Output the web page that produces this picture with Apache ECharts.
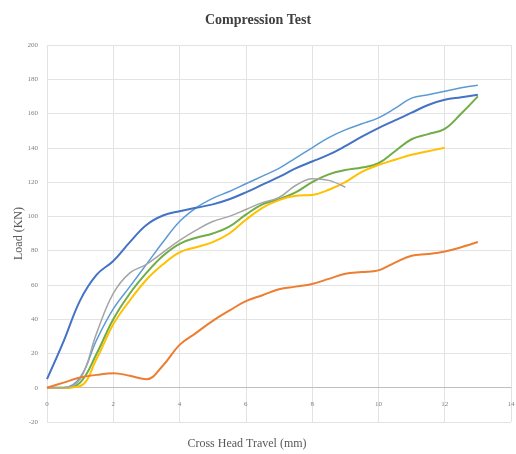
<!DOCTYPE html>
<html>
<head>
<meta charset="utf-8">
<script src="https://cdn.jsdelivr.net/npm/echarts@6/dist/echarts.min.js"></script>
<style>html,body{margin:0;padding:0;background:#fff;}#c{width:516px;height:454px;}</style>
</head>
<body>
<div id="c"></div>
<script>
// Cross head travel (mm)
var travel = [0,0.5,1,1.5,2,2.5,3,3.5,4,4.5,5,5.5,6,6.5,7,7.5,8,8.5,9,9.5,10,10.5,11,11.5,12,12.5,13];
// Load (KN) per specimen
var s1 = [5,27,51,66,74,85,95,100.5,103,105,107,110,114,118.5,123,128,132,136,141,146.5,151.5,156,160.5,165,168,169.5,171];
var s2 = [0,3,6,7.5,8.5,7,5,13,25,32,39,45,50.5,54,57.5,59,60.5,63.5,66.5,67.5,68.5,73,77,78,79.5,82,85];
var s3 = [0,0,5,32,55,67,72,79,86,92,97,100,104,108,111,118,122,121,117];
var s4 = [0,0,1,17,37,51,63,72,79,82,85,90,98,105,109.5,112,112.5,115.5,120,126,130,133,136,138,140];
var s5 = [0,0,6,28,46,59,72,85,97,105,110.5,114.5,119,123.5,128,134,140,146,150.5,154,157.5,163,169,171,173,175,176.5];
var s6 = [0,0,3,20,40,55,67,77,84,87.5,90,94,101,107,110,114,120,124.5,127,128.5,131,138,145,148,151,160,170];
var seriesData = [s1, s2, s3, s4, s5, s6];
var colors = ['#4472C4', '#ED7D31', '#A5A5A5', '#FFC000', '#5B9BD5', '#70AD47'];
var widths = [2, 2, 1.5, 2, 1.5, 2];

function pairs(arr) {
  var out = [];
  for (var i = 0; i < arr.length; i++) out.push([travel[i], arr[i]]);
  return out;
}

var chart = echarts.init(document.getElementById('c'));
var serif = 'Liberation Serif';
chart.setOption({
  animation: false,
  title: {
    text: 'Compression Test',
    left: 'center',
    top: 8,
    textStyle: { fontFamily: serif, fontSize: 14, fontWeight: 'bold', color: '#404040' }
  },
  grid: { left: 47, right: 5, top: 45, bottom: 32, containLabel: false, outerBoundsMode: 'none' },
  xAxis: {
    type: 'value', min: 0, max: 14, interval: 2,
    name: 'Cross Head Travel (mm)',
    nameLocation: 'middle', nameGap: 16, nameMoveOverlap: false,
    nameTextStyle: { fontFamily: serif, fontSize: 12, color: '#595959', padding: [0, 64, 0, 0] },
    axisLine: { show: true, onZero: true, lineStyle: { color: '#bfbfbf', width: 1 } },
    axisTick: { show: false },
    axisLabel: { fontFamily: serif, fontSize: 7, color: '#7f7f7f', margin: -21 },
    splitLine: { show: true, lineStyle: { color: '#e3e3e3', width: 1 } }
  },
  yAxis: {
    type: 'value', min: -20, max: 200, interval: 20,
    name: 'Load (KN)',
    nameLocation: 'middle', nameGap: 22, nameMoveOverlap: false,
    nameTextStyle: { fontFamily: serif, fontSize: 12, color: '#595959' },
    axisLine: { show: false },
    axisTick: { show: false },
    axisLabel: { fontFamily: serif, fontSize: 7, color: '#7f7f7f', margin: 9 },
    splitLine: { show: true, lineStyle: { color: '#e3e3e3', width: 1 } }
  },
  series: seriesData.map(function (d, i) {
    return {
      type: 'line',
      data: pairs(d),
      smooth: 0.4,
      showSymbol: false,
      symbol: 'none',
      lineStyle: { color: colors[i], width: widths[i] },
      itemStyle: { color: colors[i] },
      z: 10 - i
    };
  })
});
</script>
</body>
</html>
